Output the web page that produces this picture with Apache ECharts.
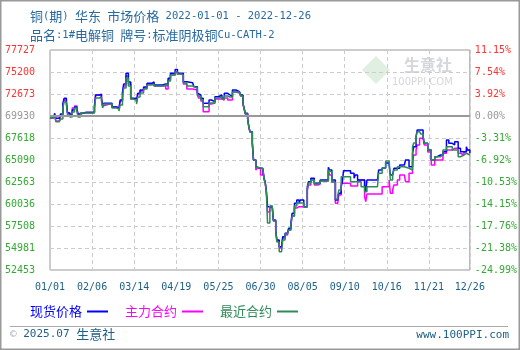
<!DOCTYPE html>
<html>
<head>
<meta charset="utf-8">
<script src="https://cdn.jsdelivr.net/npm/echarts@6/dist/echarts.min.js"></script>
<style>html,body{margin:0;padding:0;background:#fff}#c{width:520px;height:350px}</style>
</head>
<body>
<div id="c"></div>
<script>
// ---------- data ----------
const titleText = '铜(期) 华东 市场价格 2022-01-01 - 2022-12-26';
const subTitleText = '品名:1#电解铜 牌号:标准阴极铜Cu-CATH-2';
const seriesNames = ['现货价格', '主力合约', '最近合约'];
const xTickLabels = ['01/01','02/06','03/14','04/19','05/25','06/30','08/05','09/10','10/16','11/21','12/26'];
// top -> bottom
const yTickLabels = ['77727','75200','72673','69930','67618','65090','62563','60036','57508','54981','52453'];
const pctTickLabels = ['11.15%','7.54%','3.92%','0.00%','-3.31%','-6.92%','-10.53%','-14.15%','-17.76%','-21.38%','-24.99%'];
// days since 2022-01-01
const days = [0,3,4,5,8,9,11,12,14,15,17,19,21,23,24,26,31,35,38,39,42,44,45,46,51,53,57,59,60,62,63,65,67,69,71,74,75,77,80,83,87,89,93,96,99,101,103,107,109,112,114,117,122,123,126,127,129,131,134,136,138,141,144,147,149,152,154,156,159,162,163,165,166,167,169,170,171,173,174,176,177,180,182,183,184,185,186,188,190,191,193,194,196,198,199,201,203,204,206,207,209,211,213,214,217,220,221,223,226,229,231,236,238,239,241,244,246,247,249,250,251,255,257,260,261,263,266,269,270,271,280,281,284,287,290,291,293,294,297,299,303,304,307,310,311,313,314,316,317,319,320,323,326,329,331,334,336,339,341,344,346,349,351,354,356,357,359];
const spot = [69930,70145,70455,69881,69881,70375,71523,72178,71788,70490,70260,70834,71179,70949,70375,70570,70570,70604,71294,72557,72638,72213,71294,71604,71604,71179,71030,70834,71983,72902,73821,75050,74051,72178,72213,71788,72753,73132,73476,73902,74051,73706,73706,73821,73821,74476,75050,75487,75050,75050,74085,73970,73970,73511,72753,72557,72178,71604,71604,71983,71788,72362,72557,72178,72753,72557,72362,73132,72936,72902,72557,71604,71030,70455,69881,68916,68341,67009,65090,64321,64137,64137,64137,62988,62597,61449,59725,59806,59806,58197,57049,55900,55130,55130,56279,56670,56670,57244,57819,58968,60116,60495,60116,60495,59725,62023,62597,62988,62411,62411,62793,62793,64252,63941,62793,60495,60874,61265,62023,62597,63861,63861,63562,62988,63367,62793,62793,62023,61449,62793,62793,63941,64171,64746,64516,63367,63482,64137,64137,64516,64516,65090,64321,65860,66618,67767,68537,68537,68537,67767,67009,66239,65090,65469,65665,65665,66044,67388,67009,66813,67193,66435,66044,66044,66618,66239,65860];
const mainContract = [69950,70030,70260,69571,69490,70145,71409,71983,71638,70490,70260,71064,71294,70834,70260,70490,70490,70547,71179,72557,72557,72098,71294,71523,71523,71179,71007,70834,71868,72787,73591,74740,73821,72098,72098,71753,72672,73017,73362,73821,73936,73591,73591,73591,73247,74281,74855,75200,74970,74970,73821,73247,73247,73132,72557,72213,71868,70639,70639,71523,71638,72098,72098,71983,72213,71983,71983,72902,72787,72787,72443,71523,70949,70375,69800,68881,68307,67009,65090,63941,64171,63367,63941,62907,62448,61449,59116,59691,59576,58083,56934,55785,54981,54981,56130,56474,56589,57049,57623,58657,59576,59725,59725,59725,59725,61644,62218,62793,62218,62333,62678,62678,63941,63367,62563,60116,60150,61069,62411,62411,62411,62411,62103,62103,62103,62793,62793,60874,60300,61184,61184,61184,62023,62023,62793,61265,61644,62218,62793,63367,63367,62597,63562,64895,65665,66239,66813,67583,67583,67388,66813,66009,64516,65090,65090,65090,65860,66239,66239,66435,66435,65860,65665,66009,66239,66239,66320];
const nearestContract = [69950,70030,70260,69490,69490,69800,71064,71753,71523,70260,70030,70604,71064,70719,70030,70490,70490,70490,70949,72213,72328,71868,71064,71523,71523,71064,70949,70719,71409,72328,73362,74510,73591,72098,71983,71523,72328,72787,73247,73706,73821,73591,73591,73706,73591,74166,74855,75200,74970,74855,73936,73591,73591,73362,72557,72328,71983,71213,71213,71638,71638,72213,72328,72098,72443,72328,72328,72902,72902,72787,72443,71523,70949,70375,69800,68881,68307,67009,65090,64286,64171,64056,63941,62907,62448,61449,57853,59806,59691,58083,56934,55670,54556,54556,55900,56589,56589,57049,57623,58657,59806,60150,59921,60150,59691,61759,62448,62793,62333,62448,62678,62678,63941,63712,62563,60610,60955,61644,63172,63172,63172,63172,62597,62597,62597,62597,62023,61449,61449,62023,62023,63562,64171,64975,64975,62793,63367,63941,64321,64321,64321,64137,63941,66618,67043,67767,68341,68341,68077,67767,67009,66239,65090,65469,65469,65665,66239,66618,66618,66239,66239,65469,65665,65860,66044,65665,65665];
const seriesColors = ['#0000ff', '#ff00ff', '#2e8b57'];

// ---------- derived ----------
const nSteps = yTickLabels.length - 1;
const yMax = Number(yTickLabels[0]);
const yMin = Number(yTickLabels[nSteps]);
const yInterval = (yMax - yMin) / nSteps;
const baseIdx = pctTickLabels.indexOf('0.00%');
const xMax = days[days.length - 1];
const xInterval = 36;
const idxFromTop = v => nSteps - Math.round((v - yMin) / yInterval);
const labelStyle = i => (i < baseIdx ? 'r' : (i === baseIdx ? 'z' : 'g'));
const monoFont = '"DejaVu Sans Mono", "Liberation Mono", monospace';
const cjkFont = '"Noto Sans CJK SC", sans-serif';
const richify = s => s.replace(/[\u3000-\u303f\u4e00-\u9fff\uff00-\uffef]+/g, m => '{c|' + m + '}');
const pair = arr => days.map((d, i) => [d, arr[i]]);
const axisRich = {
  r: { color: '#ff3333', fontFamily: monoFont, fontSize: 10 },
  z: { color: '#999999', fontFamily: monoFont, fontSize: 10 },
  g: { color: '#33aa33', fontFamily: monoFont, fontSize: 10 }
};
const titleColor = '#276aa0';
const darkBlue = '#1d5f86';

const chart = echarts.init(document.getElementById('c'), null, { renderer: 'canvas' });
chart.setOption({
  animation: false,
  backgroundColor: '#ffffff',
  title: [
    { text: richify(titleText), left: 25, top: 5,
      textStyle: { fontFamily: monoFont, fontSize: 10.5, fontWeight: 'normal', color: titleColor,
        rich: { c: { fontFamily: cjkFont, fontSize: 13, color: titleColor } } } },
    { text: richify(subTitleText), left: 25, top: 24,
      textStyle: { fontFamily: monoFont, fontSize: 10.5, fontWeight: 'normal', color: titleColor,
        rich: { c: { fontFamily: cjkFont, fontSize: 13, color: titleColor } } } }
  ],
  grid: { left: 50, right: 50, top: 50, bottom: 80, show: true, borderColor: '#999999', borderWidth: 1, backgroundColor: 'transparent' },
  legend: {
    left: 25, top: 300, align: 'right', icon: 'rect', itemWidth: 21, itemHeight: 2, itemGap: 17,
    textStyle: { fontFamily: cjkFont, fontSize: 13 },
    data: seriesNames.map((n, i) => ({ name: n, textStyle: { color: seriesColors[i] } }))
  },
  xAxis: {
    type: 'value', min: 0, max: xMax, interval: xInterval,
    axisLine: { show: false }, axisTick: { show: false },
    splitLine: { show: true, lineStyle: { color: '#cccccc', type: [4, 3], width: 1 } },
    axisLabel: { margin: 12, color: darkBlue, fontFamily: monoFont, fontSize: 10,
      formatter: v => xTickLabels[Math.min(xTickLabels.length - 1, Math.round(v / xInterval))] }
  },
  yAxis: [
    { type: 'value', position: 'left', min: yMin, max: yMax, interval: yInterval,
      axisLine: { show: false }, axisTick: { show: false },
      splitLine: { show: true, lineStyle: { color: '#cccccc', type: [4, 3], width: 1 } },
      axisLabel: { align: 'left', margin: 45, rich: axisRich,
        formatter: v => { const i = idxFromTop(v); return '{' + labelStyle(i) + '|' + yTickLabels[i] + '}'; } } },
    { type: 'value', position: 'right', min: yMin, max: yMax, interval: yInterval,
      axisLine: { show: false }, axisTick: { show: false }, splitLine: { show: false },
      axisLabel: { align: 'left', margin: 5, rich: axisRich,
        formatter: v => { const i = idxFromTop(v); return '{' + labelStyle(i) + '|' + pctTickLabels[i] + '}'; } } }
  ],
  series: [
    { name: seriesNames[1], type: 'line', step: 'end', showSymbol: false, data: pair(mainContract),
      color: seriesColors[1], lineStyle: { width: 1.5, color: seriesColors[1] }, z: 2,
      markLine: { silent: true, symbol: ['none', 'none'], label: { show: false },
        lineStyle: { color: '#999999', width: 2, type: 'solid' },
        data: [{ yAxis: yMin + (nSteps - baseIdx) * yInterval }] } },
    { name: seriesNames[0], type: 'line', step: 'end', showSymbol: false, data: pair(spot),
      color: seriesColors[0], lineStyle: { width: 1.5, color: seriesColors[0] }, z: 3 },
    { name: seriesNames[2], type: 'line', step: 'end', showSymbol: false, data: pair(nearestContract),
      color: seriesColors[2], lineStyle: { width: 1.5, color: seriesColors[2] }, z: 4 }
  ],
  graphic: [
    { type: 'rect', silent: true, z: 100, shape: { x: 0.75, y: 0.75, width: 518.5, height: 348.5 },
      style: { fill: 'none', stroke: '#999999', lineWidth: 1.5 } },
    { type: 'polygon', silent: true, z: 0, shape: { points: [[376, 56], [390, 70], [376, 84], [362, 70]] },
      style: { fill: '#e0efe2' } },
    { type: 'text', silent: true, z: 0, left: 404, top: 57,
      style: { text: '生意社', fill: '#d4d7dc', font: 'bold 16px "Noto Sans CJK SC"' } },
    { type: 'text', silent: true, z: 0, left: 392, top: 77,
      style: { text: '100PPI.COM', fill: '#d4d7dc', font: '10px "DejaVu Sans", sans-serif' } },
    { type: 'line', silent: true, shape: { x1: 10, y1: 326.5, x2: 508, y2: 326.5 },
      style: { stroke: '#aaaaaa', lineWidth: 1 } },
    { type: 'text', silent: true, left: 10, top: 328,
      style: { text: '{cp|©} 2025.07 {c|生意社}', font: '11px "DejaVu Sans Mono"', fill: darkBlue,
        rich: { cp: { fill: '#aab4c0', font: '11px "DejaVu Sans Mono"' }, c: { fill: darkBlue, font: '13px "Noto Sans CJK SC"' } } } },
    { type: 'text', silent: true, right: 11, top: 330,
      style: { text: 'www.100PPI.com', font: '11px "DejaVu Sans Mono"', fill: darkBlue } }
  ]
});
</script>
</body>
</html>
